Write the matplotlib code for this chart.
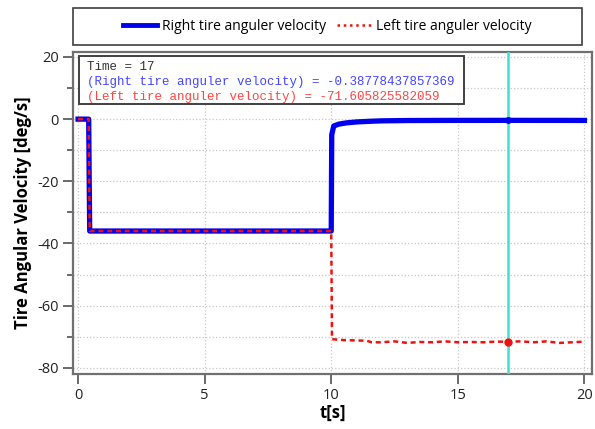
import matplotlib
matplotlib.use("Agg")
import matplotlib.pyplot as plt
from matplotlib.patches import Rectangle
from matplotlib.ticker import MultipleLocator
from matplotlib.lines import Line2D

# ---- data ----
t_right = [0, 0.42, 0.44, 0.46, 10.0, 10.02, 10.1, 10.3, 10.6, 11.0, 11.5, 12.0, 13.0, 14.0, 15.0, 16.0, 17.0, 18.0, 19.0, 20.0]
right_vel = [0, 0, -20, -36, -36, -5, -2.2, -1.6, -1.2, -0.9, -0.7, -0.55, -0.45, -0.42, -0.4, -0.4, -0.39, -0.4, -0.4, -0.42]

t_left = [0, 0.42, 0.44, 0.46, 10.0, 10.03, 10.5, 11.0, 11.4, 11.6, 12.0, 12.5, 13.0, 13.5, 14.0, 14.5, 15.0, 15.5, 16.0, 16.5, 17.0, 17.5, 18.0, 18.5, 19.0, 19.5, 20.0]
left_vel = [0, 0, -20, -36, -36, -70.8, -71.1, -71.2, -71.3, -71.8, -71.8, -71.5, -72.0, -71.7, -71.8, -71.5, -71.8, -71.7, -71.8, -71.6, -71.6, -71.5, -71.8, -71.5, -72.0, -71.8, -71.6]

cursor_t = 17
cursor_right = -0.38778437857369
cursor_left = -71.605825582059

label_right = "Right tire anguler velocity"
label_left = "Left tire anguler velocity"

plt.rcParams['font.family'] = ['Open Sans', 'DejaVu Sans']
plt.rcParams['axes.unicode_minus'] = False

fig = plt.figure(figsize=(5.95, 4.29), dpi=100)
ax = fig.add_axes([73/595, 55/429, 519/595, 322/429])

ax.set_xlim(-0.2, 20.3)
ax.set_ylim(-82, 21.6)

ax.xaxis.set_major_locator(MultipleLocator(5))
ax.yaxis.set_major_locator(MultipleLocator(20))
ax.yaxis.set_minor_locator(MultipleLocator(10))

ax.grid(True, which='major', axis='x', color='#c8c8c8', linestyle=':', linewidth=0.9)
ax.grid(True, which='both', axis='y', color='#c8c8c8', linestyle=':', linewidth=0.9)
ax.set_axisbelow(True)

ax.plot(t_right, right_vel, color='#0000ee', linewidth=3.8, solid_joinstyle='round', zorder=3)
ax.plot(t_left, left_vel, color='#ee1111', linewidth=1.8, linestyle=(0, (2, 1.5)), zorder=4)

ax.axvline(cursor_t, color='#40e0d0', linewidth=1.8, zorder=5)
ax.plot([cursor_t], [cursor_right], 'o', color='#0000ee', markersize=4, zorder=6)
ax.plot([cursor_t], [cursor_left], 'o', color='#ee1111', markersize=5, zorder=6)

for s in ax.spines.values():
    s.set_color('#707070')
    s.set_linewidth(1.6)

ax.tick_params(axis='both', which='major', direction='out', length=7, width=1.2,
               color='#505050', labelsize=10.5, labelcolor='#222222', pad=3)
ax.tick_params(axis='y', which='minor', direction='out', length=4, width=1.2, color='#505050')
ax.tick_params(axis='x', which='minor', length=0)

ax.set_xlabel('t[s]', fontsize=12, fontweight='bold', labelpad=1)
ax.set_ylabel('Tire Angular Velocity [deg/s]', fontsize=12, fontweight='bold', labelpad=4)

# readout box
box = Rectangle((0.0116, 0.839), 0.741, 0.150, transform=ax.transAxes,
                facecolor='white', edgecolor='#404040', linewidth=1.4, zorder=7)
ax.add_patch(box)
mono = 'Liberation Mono'
ax.text(0.027, 0.953, f"Time = {cursor_t}", transform=ax.transAxes, family=mono,
        fontsize=9, color='#333333', va='center', zorder=8)
ax.text(0.027, 0.907, f"({label_right}) = {cursor_right}", transform=ax.transAxes, family=mono,
        fontsize=9, color='#4444ff', va='center', zorder=8)
ax.text(0.027, 0.859, f"({label_left}) = {cursor_left}", transform=ax.transAxes, family=mono,
        fontsize=9, color='#ff4444', va='center', zorder=8)

# legend box at top
fig.add_artist(Rectangle((73/595, (429-45)/429), 509/595, 37/429, transform=fig.transFigure,
                         facecolor='white', edgecolor='#404040', linewidth=1.2))
handles = [Line2D([], [], color='#0000ee', linewidth=3.5),
           Line2D([], [], color='#ee1111', linewidth=1.8, linestyle=(0, (1, 1.5)))]
fig.legend(handles, [label_right, label_left], loc='center',
           bbox_to_anchor=((73 + 509/2)/595, (429-26.5)/429), ncol=2, frameon=False,
           fontsize=10, handlelength=2.4, handletextpad=0.4, columnspacing=0.8)

fig.savefig('out.png', dpi=100)
